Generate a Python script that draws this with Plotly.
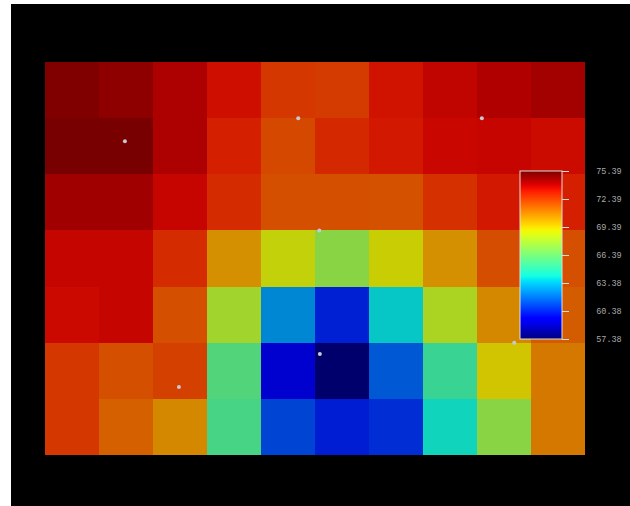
import numpy as np
import plotly.graph_objects as go

# ---------------- data ----------------
COLS = list(range(10))
ROWS = list(range(7))

ROW_0 = [74.95, 74.70, 74.12, 73.40, 72.48, 72.42, 73.32, 73.78, 74.07, 74.30]
ROW_1 = [75.10, 75.10, 74.12, 73.04, 72.10, 72.84, 73.20, 73.60, 73.67, 73.50]
ROW_2 = [74.37, 74.37, 73.67, 72.75, 71.92, 71.92, 71.90, 72.66, 73.20, 73.04]
ROW_3 = [73.69, 73.69, 72.75, 70.46, 68.80, 67.28, 68.99, 70.46, 72.00, 71.92]
ROW_4 = [73.55, 73.69, 71.92, 67.93, 62.51, 60.31, 63.86, 68.18, 70.65, 71.66]
ROW_5 = [72.48, 71.92, 72.28, 65.84, 59.40, 57.45, 61.50, 65.20, 69.26, 71.00]
ROW_6 = [72.48, 71.56, 70.65, 65.57, 61.07, 60.25, 60.62, 64.13, 67.28, 71.00]

Z_MIN = 57.38
Z_MAX = 75.39
TICK_LABELS = ["57.38", "60.38", "63.38", "66.39", "69.39", "72.39", "75.39"]

DOT_X = [1.48, 4.69, 8.09, 5.08, 5.09, 2.48, 8.69]
DOT_Y = [1.41, 1.00, 1.00, 3.00, 5.20, 5.79, 5.00]

Z = [ROW_0, ROW_1, ROW_2, ROW_3, ROW_4, ROW_5, ROW_6]

# ---------------- matplotlib-style jet colorscale ----------------
_seg = {
    "r": [(0, 0), (0.35, 0), (0.66, 1), (0.89, 1), (1, 0.5)],
    "g": [(0, 0), (0.125, 0), (0.375, 1), (0.64, 1), (0.91, 0), (1, 0)],
    "b": [(0, 0.5), (0.11, 1), (0.34, 1), (0.65, 0), (1, 0)],
}


def _chan(name, t):
    pts = _seg[name]
    xs = [p[0] for p in pts]
    ys = [p[1] for p in pts]
    return float(np.interp(t, xs, ys))


jet = []
for t in np.linspace(0, 1, 41):
    r, g, b = (int(round(255 * _chan(c, t))) for c in "rgb")
    jet.append([float(t), f"rgb({r},{g},{b})"])

tickvals = list(np.linspace(Z_MIN, Z_MAX, len(TICK_LABELS)))
ticktext = ["\u00a0" * 5 + s for s in TICK_LABELS]

fig = go.Figure()
fig.add_trace(go.Heatmap(
    z=Z,
    x=[c + 0.5 for c in COLS],
    y=[r + 0.5 for r in ROWS],
    colorscale=jet,
    zmin=Z_MIN,
    zmax=Z_MAX,
    opacity=0.83,
    hoverinfo="skip",
    colorbar=dict(
        x=0.8796, xanchor="left", xpad=0,
        y=0.722, yanchor="top", ypad=0,
        len=0.427, lenmode="fraction",
        thickness=42, thicknessmode="pixels",
        outlinecolor="#dddddd", outlinewidth=1,
        tickmode="array", tickvals=tickvals, ticktext=ticktext,
        ticks="outside", ticklen=7, tickcolor="#dddddd", tickwidth=1,
        tickfont=dict(family="Liberation Mono", size=8.5, color="#a8a8a8"),
    ),
))
fig.add_trace(go.Scatter(
    x=DOT_X, y=DOT_Y, mode="markers",
    marker=dict(size=4, color="#c8c8d4"),
    hoverinfo="skip", showlegend=False,
))

fig.update_layout(
    width=619, height=502,
    margin=dict(l=34, r=45, t=58, b=51, autoexpand=False),
    paper_bgcolor="black",
    plot_bgcolor="black",
    showlegend=False,
    xaxis=dict(range=[0, 10], visible=False, showgrid=False, zeroline=False),
    yaxis=dict(range=[7, 0], visible=False, showgrid=False, zeroline=False),
)

fig.write_html(
    "out.html",
    post_script="document.body.style.margin='4px 0 0 11px';document.body.style.overflow='hidden';",
)
